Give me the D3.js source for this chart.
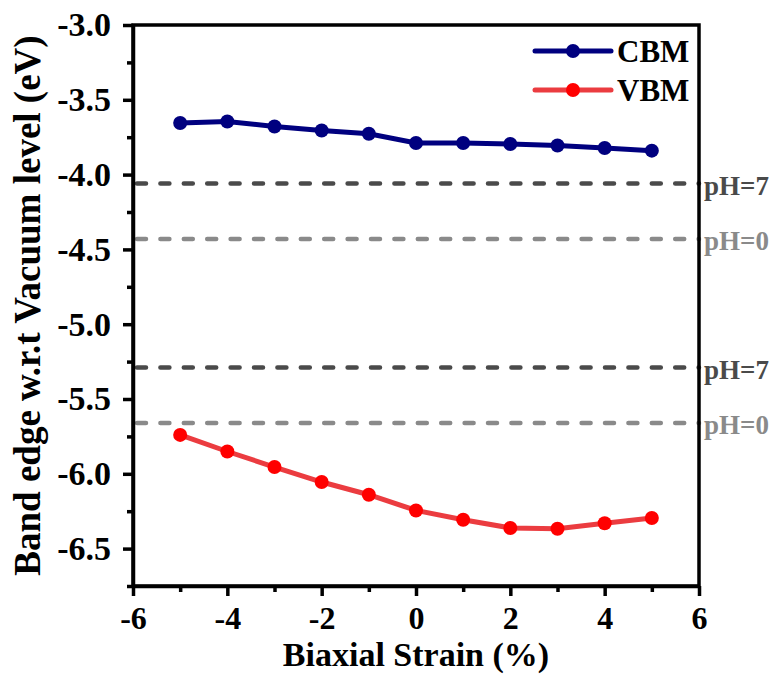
<!DOCTYPE html>
<html>
<head>
<meta charset="utf-8">
<script src="https://cdn.jsdelivr.net/npm/d3@7"></script>
<style>
  body { margin: 0; background: #fff; }
</style>
</head>
<body>
<div id="chart"></div>
<script>
// data
var strain = [-5, -4, -3, -2, -1, 0, 1, 2, 3, 4, 5];
var cbm = [-3.655, -3.645, -3.678, -3.705, -3.727, -3.789, -3.789, -3.795, -3.805, -3.822, -3.840];
var vbm = [-5.740, -5.851, -5.955, -6.055, -6.140, -6.245, -6.307, -6.362, -6.367, -6.331, -6.295];
var phLevels = [-4.06, -4.43, -5.29, -5.66];
var phLabels = ["pH=7", "pH=0", "pH=7", "pH=0"];
var xTicks = [-6, -4, -2, 0, 2, 4, 6];
var xMinor = [-5, -3, -1, 1, 3, 5];
var yTicks = [-3.0, -3.5, -4.0, -4.5, -5.0, -5.5, -6.0, -6.5];
var yMinor = [-3.25, -3.75, -4.25, -4.75, -5.25, -5.75, -6.25, -6.75];

var width = 776, height = 675;
var margin = {top: 25, right: 77, bottom: 89, left: 133};
var font = "'Liberation Serif', 'Times New Roman', serif";

var svg = d3.select("#chart").append("svg")
  .attr("width", width)
  .attr("height", height)
  .attr("font-family", font)
  .attr("font-weight", "bold");

var x = d3.scaleLinear()
  .domain([-6, 6])
  .range([margin.left, width - margin.right]);

var y = d3.scaleLinear()
  .domain([-6.75, -3.0])
  .range([height - margin.bottom, margin.top]);

// pH reference lines
var phColor = ["#4a4a4a", "#8a8a8a", "#4a4a4a", "#8a8a8a"];
phLevels.forEach(function(v, i) {
  svg.append("line")
    .attr("x1", x(-6) + 4).attr("x2", x(6))
    .attr("y1", y(v)).attr("y2", y(v))
    .attr("stroke", phColor[i])
    .attr("stroke-width", 4.5)
    .attr("stroke-linecap", "round")
    .attr("stroke-dasharray", "9,14.4");
  svg.append("text")
    .attr("x", x(6) + 5)
    .attr("y", y(v) + 11)
    .style("font-family", font)
    .style("font-size", "27px")
    .style("fill", phColor[i])
    .text(phLabels[i]);
});

// plot lines
var line = d3.line().x((d, i) => x(strain[i])).y(d => y(d));

svg.append("path").datum(vbm)
  .attr("d", line)
  .attr("fill", "none")
  .attr("stroke", "#eb3c40")
  .attr("stroke-width", 5);
svg.selectAll(".vbm").data(vbm).join("circle")
  .attr("class", "vbm")
  .attr("cx", (d, i) => x(strain[i]))
  .attr("cy", d => y(d))
  .attr("r", 7)
  .attr("fill", "#ff0000");

svg.append("path").datum(cbm)
  .attr("d", line)
  .attr("fill", "none")
  .attr("stroke", "#00007f")
  .attr("stroke-width", 5);
svg.selectAll(".cbm").data(cbm).join("circle")
  .attr("class", "cbm")
  .attr("cx", (d, i) => x(strain[i]))
  .attr("cy", d => y(d))
  .attr("r", 7)
  .attr("fill", "#00007f");

// frame
svg.append("rect")
  .attr("x", margin.left).attr("y", margin.top)
  .attr("width", width - margin.left - margin.right)
  .attr("height", height - margin.top - margin.bottom)
  .attr("fill", "none")
  .attr("stroke", "#000")
  .attr("stroke-width", 3.5);

// x axis
var xAxis = d3.axisBottom(x).tickValues(xTicks).tickSize(10).tickSizeOuter(0).tickPadding(10).tickFormat(d => String(d));
var gx = svg.append("g").attr("transform", "translate(0," + y(-6.75) + ")").call(xAxis);
gx.selectAll("text").style("font-family", font).style("font-size", "32px").attr("fill", "#000");
svg.append("g").attr("transform", "translate(0," + y(-6.75) + ")")
  .call(d3.axisBottom(x).tickValues(xMinor).tickSize(6).tickFormat(""))
  .select(".domain").remove();

// y axis
var yAxis = d3.axisLeft(y).tickValues(yTicks).tickSize(10).tickSizeOuter(0).tickPadding(12).tickFormat(d => d.toFixed(1));
var gy = svg.append("g").attr("transform", "translate(" + x(-6) + ",0)").call(yAxis);
gy.selectAll("text").style("font-family", font).style("font-size", "34px").attr("fill", "#000");
svg.append("g").attr("transform", "translate(" + x(-6) + ",0)")
  .call(d3.axisLeft(y).tickValues(yMinor).tickSize(6).tickFormat(""))
  .select(".domain").remove();

svg.selectAll(".tick line").attr("stroke-width", 3.5);
svg.selectAll(".domain").attr("stroke-width", 3.5);

// axis titles
svg.append("text")
  .attr("x", (x(-6) + x(6)) / 2)
  .attr("y", 666)
  .attr("text-anchor", "middle")
  .style("font-family", font)
  .style("font-size", "34px")
  .text("Biaxial Strain (%)");

svg.append("text")
  .attr("transform", "translate(40," + ((y(-3) + y(-6.75)) / 2) + ") rotate(-90)")
  .attr("text-anchor", "middle")
  .style("font-family", font)
  .style("font-size", "37px")
  .text("Band edge w.r.t Vacuum level (eV)");

// legend
var legend = [{name: "CBM", line: "#00007f", dot: "#00007f"}, {name: "VBM", line: "#eb3c40", dot: "#ff0000"}];
legend.forEach(function(d, i) {
  var ly = 51 + i * 39;
  svg.append("line").attr("x1", 535).attr("x2", 611).attr("y1", ly).attr("y2", ly)
    .attr("stroke", d.line).attr("stroke-width", 5).attr("stroke-linecap", "round");
  svg.append("circle").attr("cx", 573).attr("cy", ly).attr("r", 7).attr("fill", d.dot);
  svg.append("text").attr("x", 617).attr("y", ly + 11)
    .style("font-family", font)
    .style("font-size", "31px")
    .text(d.name);
});
</script>
</body>
</html>
